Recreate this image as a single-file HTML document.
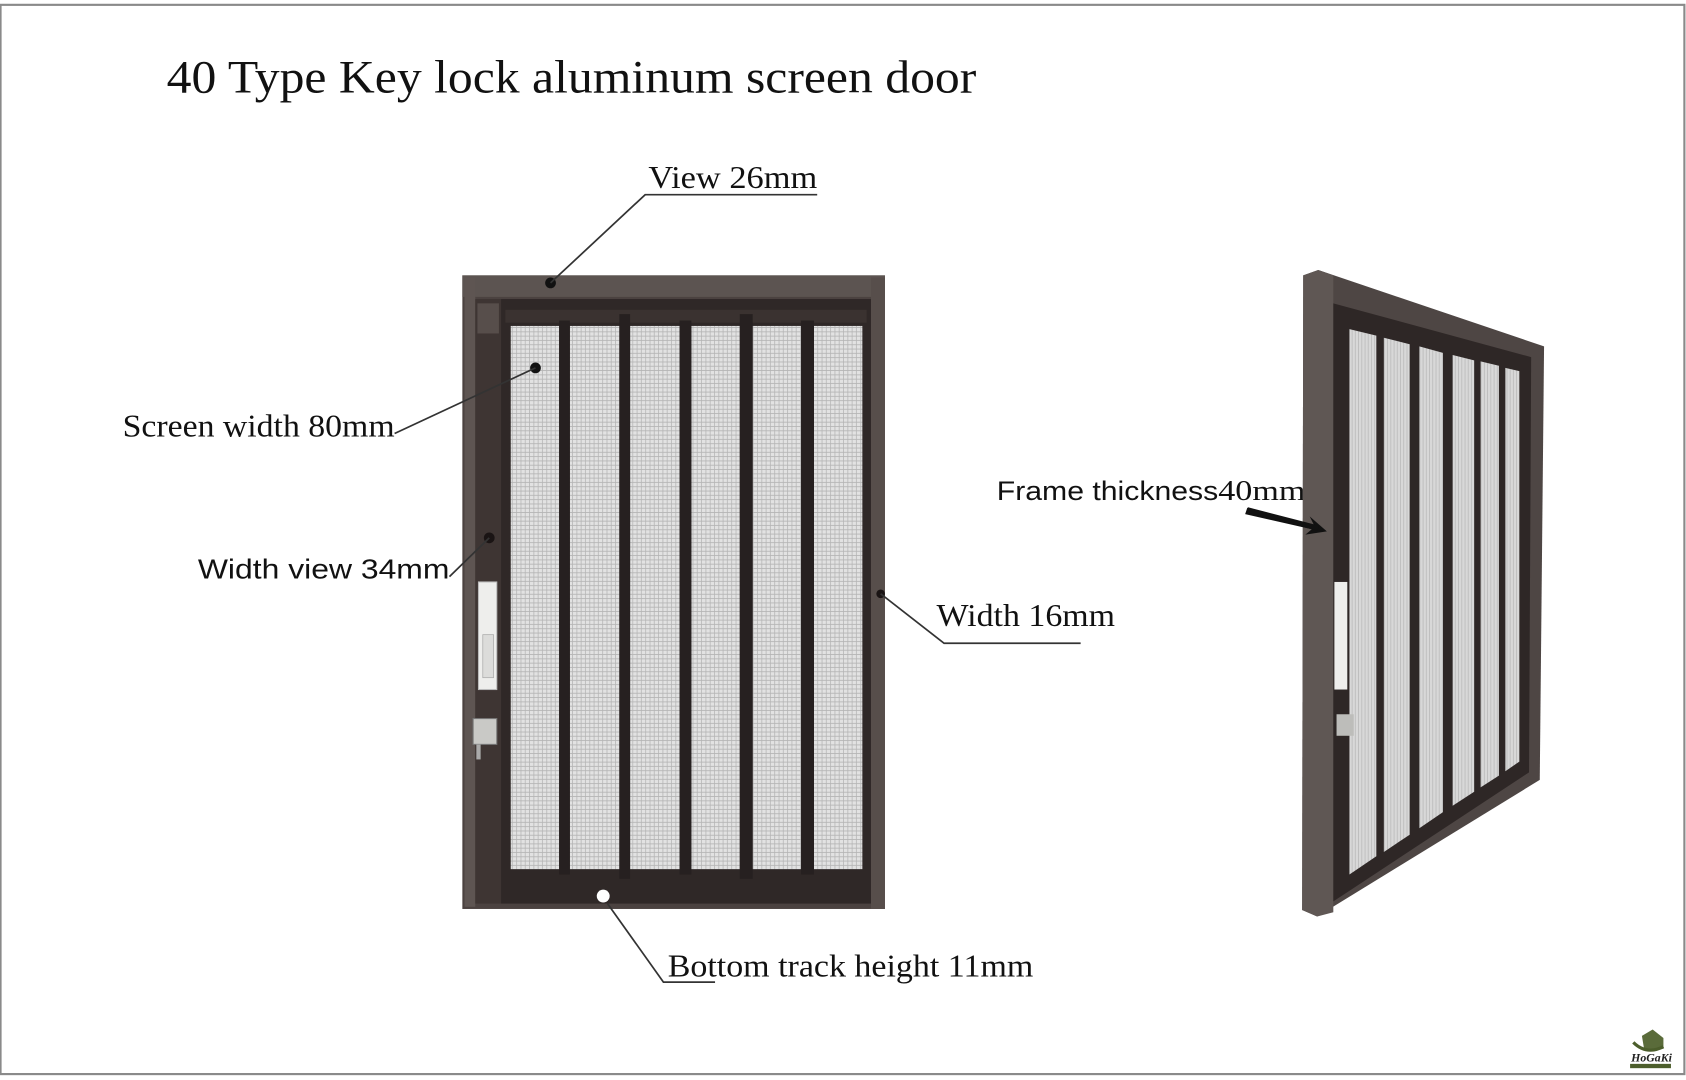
<!DOCTYPE html>
<html><head><meta charset="utf-8"><style>
html,body{margin:0;padding:0;background:#fff;}
svg{display:block;}
</style></head><body>
<svg width="1686" height="1080" viewBox="0 0 1568 1004" preserveAspectRatio="none" xmlns="http://www.w3.org/2000/svg">
<defs>
<pattern id="mesh" width="4" height="4" patternUnits="userSpaceOnUse">
<rect width="4" height="4" fill="#e2e2e2"/>
<path d="M0 .5H4M.5 0V4" stroke="#b4b4b4" stroke-width="0.7"/>
</pattern>
<pattern id="mesh2" width="3" height="6" patternUnits="userSpaceOnUse">
<rect width="3" height="6" fill="#d8d8d8"/>
<path d="M.5 0V6" stroke="#b8b8b8" stroke-width="0.7"/>
</pattern>
</defs>
<rect x="0" y="0" width="1568" height="1004" fill="#fff"/>
<rect x="0.5" y="4.5" width="1566" height="994" fill="none" stroke="#8a8a8a" stroke-width="2"/>

<text x="155" y="86" font-family="Liberation Serif, serif" font-size="43" fill="#111" textLength="753" lengthAdjust="spacingAndGlyphs">40 Type Key lock aluminum screen door</text>

<!-- front door -->
<rect x="430" y="256" width="393" height="589" fill="#4b4240"/>
<rect x="430" y="256" width="393" height="20" fill="#5c5451"/>
<rect x="810" y="258" width="13" height="587" fill="#574e4b"/>
<rect x="432" y="258" width="10" height="585" fill="#5e5552"/>
<rect x="442" y="278" width="24" height="562" fill="#3e3533"/>
<rect x="444" y="282" width="20" height="28" fill="#574e4b"/>
<rect x="466" y="278" width="344" height="562" fill="#2f2827"/>
<rect x="470" y="288" width="336" height="12" fill="#3a3230"/>
<g fill="url(#mesh)">
<rect x="475" y="303" width="45" height="505"/>
<rect x="530" y="303" width="46" height="505"/>
<rect x="586" y="303" width="46" height="505"/>
<rect x="643" y="303" width="45" height="505"/>
<rect x="700" y="303" width="45" height="505"/>
<rect x="757" y="303" width="45" height="505"/>
</g>
<g fill="#262020">
<rect x="520" y="298" width="10" height="515"/>
<rect x="576" y="292" width="10" height="525"/>
<rect x="632" y="298" width="11" height="515"/>
<rect x="688" y="292" width="12" height="525"/>
<rect x="745" y="298" width="12" height="515"/>
</g>
<rect x="445" y="541" width="17" height="100" fill="#eeeeec" stroke="#bbb" stroke-width="1"/>
<rect x="449" y="590" width="10" height="40" fill="#dcdcda" stroke="#aaa" stroke-width="0.7"/>
<rect x="440" y="668" width="22" height="24" fill="#c9c9c6" stroke="#777" stroke-width="1"/>
<rect x="443" y="692" width="4" height="14" fill="#aaa"/>

<!-- dots -->
<circle cx="512" cy="263" r="5" fill="#111"/>
<circle cx="498" cy="342" r="5" fill="#111"/>
<circle cx="455" cy="500" r="5" fill="#1a1414"/>
<circle cx="819" cy="552" r="4" fill="#1a1414"/>
<circle cx="561" cy="833" r="6" fill="#fff"/>

<!-- leader lines -->
<g stroke="#333" stroke-width="1.6" fill="none">
<polyline points="512,263 600,181 760,181"/>
<line x1="367" y1="403" x2="498" y2="342"/>
<line x1="418" y1="536" x2="455" y2="500"/>
<polyline points="819,552 878,598 1005,598"/>
<polyline points="565,840 617,913 665,913"/>
</g>

<text x="603" y="175" font-family="Liberation Serif, serif" font-size="29" fill="#111" textLength="157" lengthAdjust="spacingAndGlyphs">View 26mm</text>
<text x="114" y="406" font-family="Liberation Serif, serif" font-size="29" fill="#111" textLength="253" lengthAdjust="spacingAndGlyphs">Screen width 80mm</text>
<text x="184" y="538" font-family="Liberation Sans, sans-serif" font-size="26" fill="#111" textLength="234" lengthAdjust="spacingAndGlyphs">Width view 34mm</text>
<text x="871" y="582" font-family="Liberation Serif, serif" font-size="29" fill="#111" textLength="166" lengthAdjust="spacingAndGlyphs">Width 16mm</text>
<text x="621" y="908" font-family="Liberation Serif, serif" font-size="29" fill="#111" textLength="340" lengthAdjust="spacingAndGlyphs">Bottom track height 11mm</text>
<text x="927" y="465" font-family="Liberation Sans, sans-serif" font-size="25" fill="#111" textLength="206" lengthAdjust="spacingAndGlyphs">Frame thickness</text>
<text x="1133" y="465" font-family="Liberation Serif, serif" font-size="27" fill="#111" textLength="81" lengthAdjust="spacingAndGlyphs">40mm</text>

<!-- right door -->
<polygon points="1212,256 1226,251 1436,322 1432,725 1225,852 1211,846" fill="#4e4644"/>
<polygon points="1212,256 1226,251 1240,256 1240,848 1225,852 1211,846" fill="#5f5754"/>
<polygon points="1240,282 1424,332 1422,718 1240,838" fill="#2e2726"/>
<g fill="url(#mesh2)">
<polygon points="1255,306 1280,312 1280,796 1255,813"/>
<polygon points="1287,314 1311,320 1311,776 1287,792"/>
<polygon points="1320,322 1342,328 1342,755 1320,770"/>
<polygon points="1351,330 1371,335 1371,736 1351,749"/>
<polygon points="1377,336 1394,340 1394,721 1377,732"/>
<polygon points="1400,342 1413,345 1413,708 1400,717"/>
</g>
<rect x="1241" y="541" width="12" height="100" fill="#eeeeec"/>
<rect x="1243" y="664" width="16" height="20" fill="#bdbdba"/>
<polygon points="1160,472 1222,488 1218,480 1234,494 1214,497 1220,492 1158,478" fill="#111"/>
<line x1="1160" y1="474" x2="1226" y2="491" stroke="#111" stroke-width="5"/>

<!-- logo -->
<g transform="translate(1513,955)">
<path d="M14 8 L24 2 L34 10 L34 20 L16 20 Z" fill="#5a6b3a"/>
<path d="M6 14 Q18 26 34 18" stroke="#4c5e2c" stroke-width="3" fill="none"/>
<text x="4" y="32" font-family="Liberation Serif, serif" font-style="italic" font-weight="bold" font-size="11" fill="#222">HoGaKi</text>
<rect x="3" y="34" width="38" height="4" fill="#4c5e2c"/>
</g>
</svg>
</body></html>
